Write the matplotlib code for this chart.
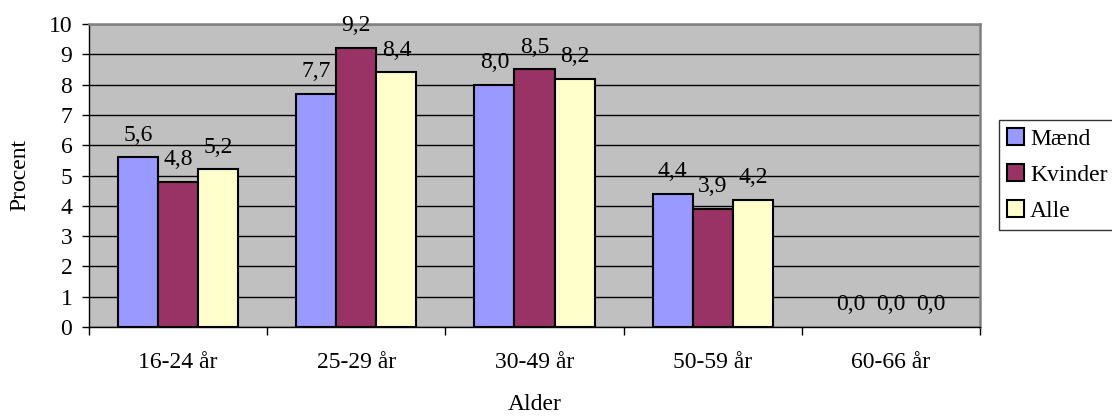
import matplotlib
matplotlib.use("Agg")
import matplotlib.pyplot as plt
import numpy as np
from matplotlib.ticker import FixedLocator, NullFormatter

categories = ["16-24 år", "25-29 år", "30-49 år", "50-59 år", "60-66 år"]
series_names = ["Mænd", "Kvinder", "Alle"]
maend = [5.6, 7.7, 8.0, 4.4, 0.0]
kvinder = [4.8, 9.2, 8.5, 3.9, 0.0]
alle = [5.2, 8.4, 8.2, 4.2, 0.0]
colors = ["#9999FF", "#993366", "#FFFFCC"]

plt.rcParams['font.family'] = ['Liberation Serif', 'DejaVu Serif']
FS = 17

fig = plt.figure(figsize=(11.12, 4.18), dpi=100)
ax = fig.add_axes([89/1112, 1-327/418, (980-89)/1112, (327-24)/418])
ax.set_facecolor("#C0C0C0")

x = np.arange(len(categories))
w = 0.225
handles = []
for k, (vals, name, c) in enumerate(zip([maend, kvinder, alle], series_names, colors)):
    pos = x + (k-1)*w
    lws = [1.5 if v > 0 else 0 for v in vals]
    b = ax.bar(pos, vals, width=w, color=c, edgecolor="black", linewidth=lws, label=name, zorder=3)
    handles.append(b)
    for p, v in zip(pos, vals):
        ax.annotate(f"{v:.1f}".replace(".", ","), (p, v), xytext=(0, 8.5), textcoords="offset points",
                    ha="center", va="bottom", fontsize=FS, zorder=4)

ax.set_xlim(-0.5, len(categories)-0.5)
ax.set_ylim(0, 10)
ax.set_yticks(range(0, 11))
ax.yaxis.grid(True, color="black", linewidth=1.0, zorder=1)
ax.set_axisbelow(True)
ax.tick_params(axis="y", direction="out", length=5, width=1, labelsize=FS, pad=7)

ax.set_xticks(x)
ax.set_xticklabels(categories, fontsize=FS)
ax.tick_params(axis="x", which="major", length=0, pad=18)
ax.xaxis.set_minor_locator(FixedLocator(np.arange(-0.5, len(categories)+0.5, 1.0)))
ax.xaxis.set_minor_formatter(NullFormatter())
ax.tick_params(axis="x", which="minor", direction="out", length=6, width=1)

for s in ["top", "right"]:
    ax.spines[s].set_color("#808080")
    ax.spines[s].set_linewidth(1.8)
for s in ["left", "bottom"]:
    ax.spines[s].set_color("black")
    ax.spines[s].set_linewidth(1.0)

fig.text(20/1112, 0.5*((1-327/418)+(1-24/418)), "Procent", rotation=90,
         ha="center", va="center", fontsize=FS)
fig.text(534.5/1112, 1-405/418, "Alder", ha="center", va="center", fontsize=FS)

leg = fig.legend(handles=handles, labels=series_names, loc="upper left",
                 bbox_to_anchor=(999/1112, 1-120/418), fontsize=FS, frameon=True,
                 fancybox=False, edgecolor="black", handlelength=0.72, handleheight=0.72,
                 handletextpad=0.25, borderpad=0.35, labelspacing=0.6, borderaxespad=0)
leg.get_frame().set_linewidth(1.0)

fig.savefig("out.png", dpi=100)
